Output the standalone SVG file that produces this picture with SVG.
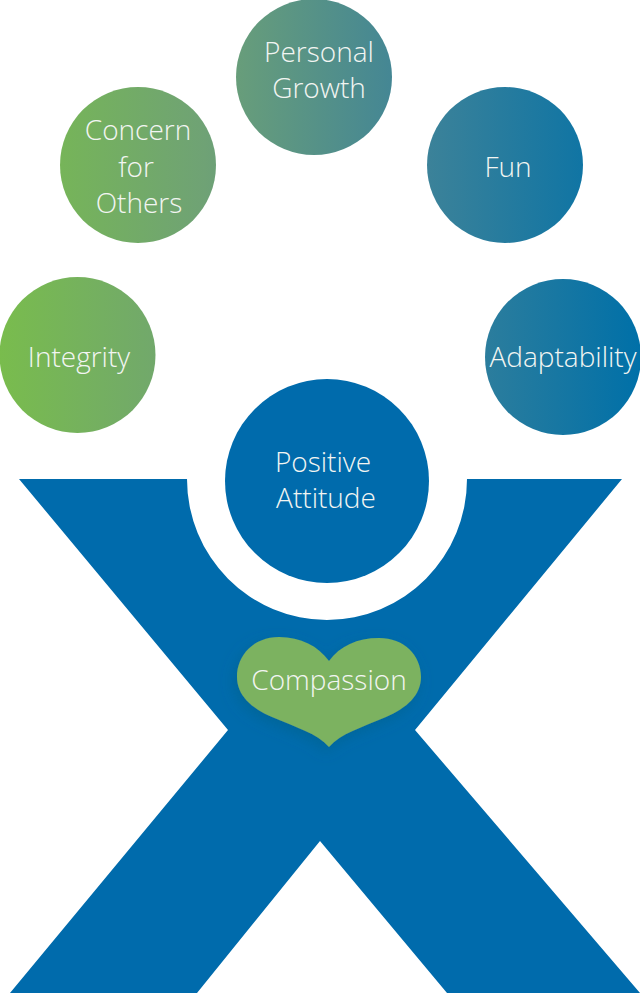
<svg xmlns="http://www.w3.org/2000/svg" width="640" height="993" viewBox="0 0 640 993">
  <style>
    .label { font-family: "Open Sans", "Noto Sans", sans-serif; font-weight: 300; font-size: 28px; fill: #f2f5f2; text-anchor: middle; }
    .blue { fill: #006bac; }
    .orb { fill: url(#band); }
  </style>
  <defs>
    <linearGradient id="band" gradientUnits="userSpaceOnUse" x1="0" y1="0" x2="640" y2="0">
      <stop offset="0" stop-color="#79bc4d"/>
      <stop offset="0.32" stop-color="#6fa275"/>
      <stop offset="0.65" stop-color="#3f8398"/>
      <stop offset="1" stop-color="#0070a8"/>
    </linearGradient>
    <filter id="heartShadow" x="-30%" y="-30%" width="160%" height="170%">
      <feGaussianBlur in="SourceAlpha" stdDeviation="7"/>
      <feOffset dx="-3" dy="5"/>
      <feColorMatrix type="matrix" values="0 0 0 0 0  0 0 0 0 0.12  0 0 0 0 0.25  0 0 0 0.55 0"/>
      <feMerge><feMergeNode/><feMergeNode in="SourceGraphic"/></feMerge>
    </filter>
  </defs>
  <rect width="640" height="993" fill="#ffffff"/>
  <g id="figure">
    <path class="blue" d="M19 479H187A140 141 0 0 0 467 479H622L415 730L640 993H447L320 841L197 993H10L228 730Z"/>
  </g>
  <g id="connectors"></g>
  <g id="integrity">
    <circle class="orb" cx="77.5" cy="355" r="78"/>
    <text class="label" x="79" y="367">Integrity</text>
  </g>
  <g id="concern">
    <circle class="orb" cx="138" cy="165" r="78"/>
    <text class="label" x="138" y="140">Concern</text>
    <text class="label" x="136" y="177">for</text>
    <text class="label" x="139" y="213">Others</text>
  </g>
  <g id="growth">
    <circle class="orb" cx="314" cy="77" r="78"/>
    <text class="label" x="319" y="62">Personal</text>
    <text class="label" x="319" y="98">Growth</text>
  </g>
  <g id="fun">
    <circle class="orb" cx="505" cy="165" r="78"/>
    <text class="label" x="508" y="177">Fun</text>
  </g>
  <g id="adaptability">
    <circle class="orb" cx="563" cy="357" r="78"/>
    <text class="label" x="563" y="367">Adaptability</text>
  </g>
  <g id="attitude">
    <circle class="blue" cx="327" cy="481" r="102"/>
    <text class="label" x="323" y="472">Positive</text>
    <text class="label" x="326" y="508">Attitude</text>
  </g>
  <g id="compassion">
    <path fill="#7bb260" filter="url(#heartShadow)" d="M329 661C318 646 301 637 279 637C254 637 237 655 237 677C237 695 251 708 272 717C297 728 317 733 329 747C341 733 361 728 386 717C407 708 421 695 421 677C421 655 404 638 379 638C357 638 340 646 329 661Z"/>
    <text class="label" x="329" y="690">Compassion</text>
  </g>
</svg>
